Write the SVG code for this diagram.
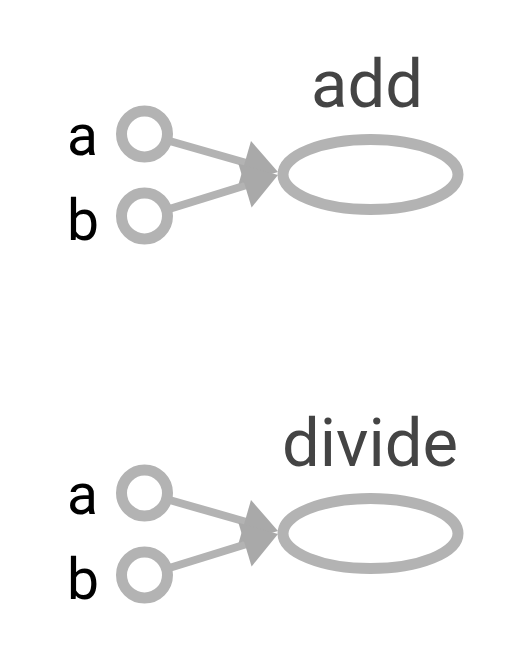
<svg xmlns="http://www.w3.org/2000/svg" width="518" height="652" viewBox="0 0 518 652">
<style>
.port{fill:none;stroke:#b3b3b3;stroke-width:11}
.op{fill:none;stroke:#b3b3b3;stroke-width:11}
.edge{stroke:#b3b3b3;stroke-width:8;fill:none}
.head{fill:#a9a9a9}
.lbl{font-family:Roboto,"Liberation Sans",sans-serif;font-size:57px;fill:#000}
.title{font-family:Roboto,"Liberation Sans",sans-serif;font-size:67px;fill:#444444;text-anchor:middle}
</style>
<rect width="518" height="652" fill="#ffffff"/>
<g id="connectors">
<line class="edge" x1="166" y1="140" x2="250" y2="164"/>
<line class="edge" x1="166" y1="210" x2="250" y2="184"/>
<polygon class="head" points="278,172 251,141 238.6,184"/>
<polygon class="head" points="278,175 251.6,207.5 238.4,163.8"/>
<line class="edge" x1="166" y1="499" x2="250" y2="523"/>
<line class="edge" x1="166" y1="569" x2="250" y2="543"/>
<polygon class="head" points="278,531 251,500 238.6,543"/>
<polygon class="head" points="278,534 251.6,566.5 238.4,522.8"/>
</g>
<g id="add">
<text class="title" x="367" y="107">add</text>
<ellipse class="op" cx="370.5" cy="174.5" rx="87.5" ry="35"/>
</g>
<g id="add-a">
<text class="lbl" x="67" y="155">a</text>
<circle class="port" cx="144.5" cy="134" r="23"/>
</g>
<g id="add-b">
<text class="lbl" x="67" y="240">b</text>
<circle class="port" cx="144.5" cy="216" r="23"/>
</g>
<g id="divide">
<text class="title" x="370" y="466">divide</text>
<ellipse class="op" cx="370.5" cy="533.5" rx="87.5" ry="35"/>
</g>
<g id="divide-a">
<text class="lbl" x="67" y="514">a</text>
<circle class="port" cx="144.5" cy="493" r="23"/>
</g>
<g id="divide-b">
<text class="lbl" x="67" y="599">b</text>
<circle class="port" cx="144.5" cy="575" r="23"/>
</g>
</svg>
